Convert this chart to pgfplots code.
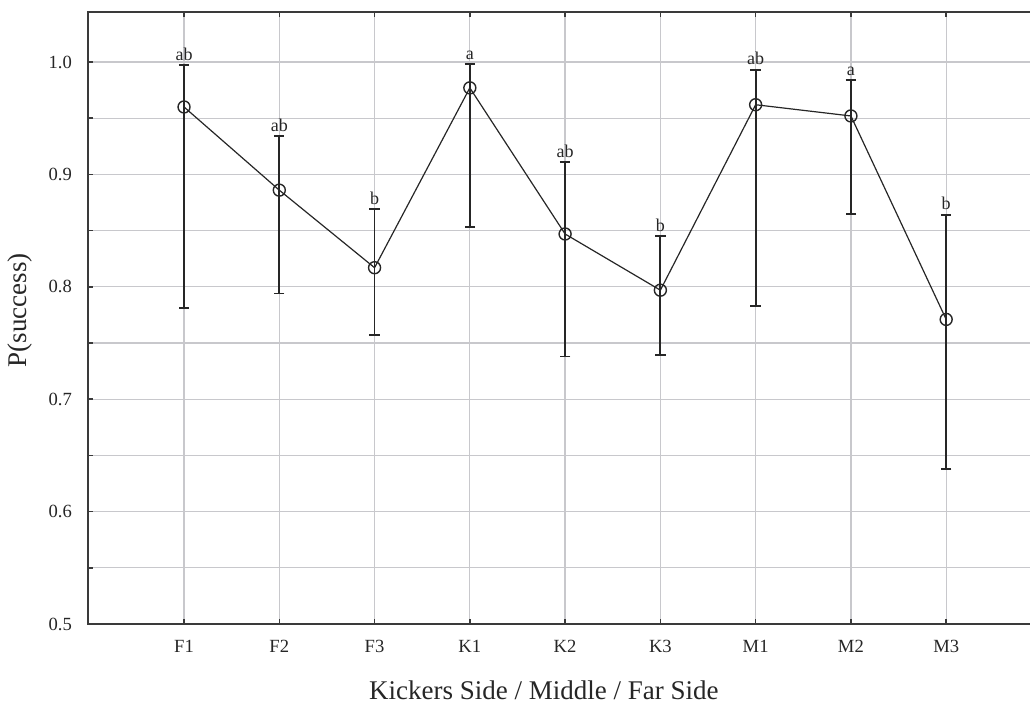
\documentclass[border=0pt]{standalone}
\usepackage{pgfplots}
\pgfplotsset{compat=1.18}
\usepackage{pgfplotstable}
\usepackage{fontspec}
\setmainfont{Liberation Serif}

\definecolor{gridgray}{HTML}{C8C8CC}
\definecolor{spine}{HTML}{3A3A3A}
\definecolor{ink}{HTML}{262626}

% position, mean, lower and upper limits, group letters
\pgfplotstableread{
x mean lo hi lab
0 0.960 0.781 0.997 ab
1 0.886 0.794 0.934 ab
2 0.817 0.757 0.869 b
3 0.977 0.853 0.998 a
4 0.847 0.738 0.911 ab
5 0.797 0.739 0.845 b
6 0.962 0.783 0.993 ab
7 0.952 0.865 0.984 a
8 0.771 0.638 0.864 b
}\success

\begin{document}
\begin{tikzpicture}
\begin{axis}[
  name=ax,
  scale only axis,
  width=471pt, height=306pt,
  xmin=-1.008, xmax=8.88,
  ymin=0.5, ymax=1.0445,
  xtick={0,...,8},
  xticklabels={F1,F2,F3,K1,K2,K3,M1,M2,M3},
  ytick={0.5,0.6,0.7,0.8,0.9,1.0},
  minor ytick={0.55,0.65,0.75,0.85,0.95},
  /pgf/number format/assume math mode=true,
  yticklabel style={/pgf/number format/fixed, /pgf/number format/fixed zerofill,
    /pgf/number format/precision=1, xshift=-4.5pt},
  xticklabel style={yshift=-4.5pt},
  xtick pos=both, ytick pos=left,
  tick align=inside,
  major tick length=2.6pt, minor tick length=2.6pt,
  every tick/.style={spine, line width=0.8pt},
  every minor tick/.style={spine, line width=0.8pt},
  grid=both,
  major grid style={gridgray, line width=0.65pt},
  minor grid style={gridgray, line width=0.65pt},
  axis line style={draw=none},
  tick label style={font=\fontsize{9.3}{11}\selectfont, color=ink},
  xlabel={Kickers Side / Middle / Far Side},
  ylabel={P(success)},
  every axis x label/.style={at={(rel axis cs:0.484,0)}, anchor=center,
    yshift=-33pt, font=\fontsize{13.5}{16}\selectfont, color=ink},
  every axis y label/.style={at={(rel axis cs:0,0.513)}, anchor=center,
    rotate=90, yshift=34pt, font=\fontsize{13.5}{16}\selectfont, color=ink},
  clip=false,
]
% confidence intervals
\addplot[ink, draw=none, mark=none,
  error bars/.cd, y dir=both, y explicit,
  error bar style={ink, line width=0.9pt},
  error mark options={rotate=90, mark size=2.6pt, line width=0.9pt, ink}]
  table[x=x, y=mean,
        y error plus expr=\thisrow{hi}-\thisrow{mean},
        y error minus expr=\thisrow{mean}-\thisrow{lo}] {\success};
% means
\addplot[ink, line width=0.6pt, mark=o, mark size=3pt,
  mark options={line width=0.7pt, ink}]
  table[x=x, y=mean] {\success};
% group letters above the upper limits
\addplot[draw=none, mark=none,
  nodes near coords, point meta=explicit symbolic,
  every node near coord/.style={font=\fontsize{9}{11}\selectfont, color=ink,
    anchor=south, inner sep=0pt, yshift=2.2pt}]
  table[x=x, y=hi, meta=lab] {\success};
% frame: left, bottom and top
\draw[spine, line width=1pt] (rel axis cs:1,1) -- (rel axis cs:0,1)
  -- (rel axis cs:0,0) -- (rel axis cs:1,0);
\end{axis}
\pgfresetboundingbox
\path ([shift={(-44pt,-41.5pt)}]ax.south west) rectangle ([shift={(0pt,6pt)}]ax.north east);
\end{tikzpicture}
\end{document}
